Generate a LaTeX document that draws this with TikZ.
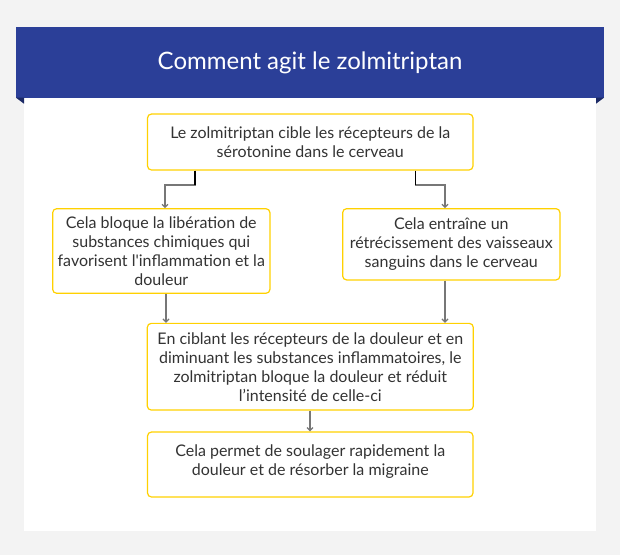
\documentclass[tikz,border=0pt]{standalone}
\usepackage{fontspec}
\setmainfont{Lato}
\usetikzlibrary{arrows.meta}
\definecolor{bg}{HTML}{F3F3F3}
\definecolor{banner}{HTML}{2B3F98}
\definecolor{fold}{HTML}{1C2A66}
\definecolor{boxline}{HTML}{FFD100}
\definecolor{txt}{HTML}{333333}
\definecolor{conn}{HTML}{777777}
\begin{document}
\begin{tikzpicture}[x=1pt,y=-1pt,
  box/.style={draw=boxline, line width=1.2pt, rounded corners=4pt, fill=white,
    align=center, text=txt, font=\fontsize{16}{19}\selectfont, inner sep=0pt},
  arr/.style={draw=conn, line width=1.2pt, -{Straight Barb[length=3pt,width=6pt]}},
  stub/.style={draw=black, line width=1.2pt},
  title/.style={text=white, font=\fontsize{24}{28}\selectfont, inner sep=0pt}
]
\fill[bg] (0,0) rectangle (620,555);
\useasboundingbox (0,0) rectangle (620,555);
\fill[white] (24,60) rectangle (596,530.7);
\fill[banner] (16,27) rectangle (604,97.7);
\fill[fold] (16,97.7) -- (24,97.7) -- (24,103.7) -- cycle;
\fill[fold] (604,97.7) -- (596,97.7) -- (596,103.7) -- cycle;
\node[title] (title) at (310,63) {Comment agit le zolmitriptan};

\node[box, minimum width=325.5pt, minimum height=56pt] (b1) at (310.25,142)
  {Le zolmitriptan cible les récepteurs de la\\sérotonine dans le cerveau};
\node[box, minimum width=217.3pt, minimum height=84.6pt] (b2) at (161.3,251)
  {Cela bloque la libération de\\substances chimiques qui\\favorisent l\textquotesingle inflammation et la\\douleur};
\node[box, minimum width=217.3pt, minimum height=71.3pt] (b3) at (451.3,244.3)
  {Cela entraîne un\\rétrécissement des vaisseaux\\sanguins dans le cerveau};
\node[box, minimum width=326pt, minimum height=86.7pt] (b4) at (310.3,366.7)
  {En ciblant les récepteurs de la douleur et en\\diminuant les substances inflammatoires, le\\zolmitriptan bloque la douleur et réduit\\l’intensité de celle-ci};
\node[box, minimum width=325.5pt, minimum height=65pt, text depth=9pt] (b5) at (310.25,464.5)
  {Cela permet de soulager rapidement la\\douleur et de résorber la migraine};

\coordinate (k1) at (195,185);
\coordinate (k2) at (165,185);
\coordinate (k3) at (415.7,185);
\coordinate (k4) at (445,185);
\coordinate (x3) at (166,300);
\coordinate (x4) at (445,300);
\coordinate (x5) at (310,420);

\draw[arr] (b1.south -| k1) -- (k1) -- (k2) -- (k2 |- b2.north);
\draw[stub] (b1.south -| k1) -- (k1);
\draw[arr] (b1.south -| k3) -- (k3) -- (k4) -- (k4 |- b3.north);
\draw[stub] (b1.south -| k3) -- (k3);
\draw[arr] (b2.south -| x3) -- (b4.north -| x3);
\draw[arr] (b3.south -| x4) -- (b4.north -| x4);
\draw[arr] (b4.south -| x5) -- (b5.north -| x5);
\end{tikzpicture}
\end{document}
